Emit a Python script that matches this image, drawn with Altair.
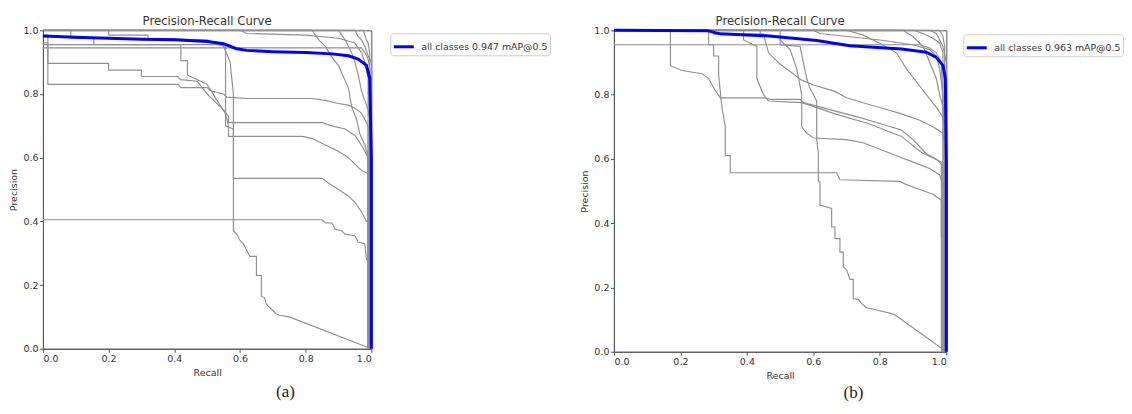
import altair as alt
import pandas as pd

TICKS = [0.0, 0.2, 0.4, 0.6, 0.8, 1.0]

# ---------------- Panel (a): per-class curves (recall, precision) ----------------
A1_R = [0, 0.85, 0.86, 0.88, 0.89, 0.91, 0.92, 0.95, 0.96, 0.98, 0.985, 0.995, 0.995]
A1_P = [0.405, 0.405, 0.395, 0.395, 0.375, 0.37, 0.36, 0.355, 0.335, 0.33, 0.28, 0.28, 0.0]

A2_R = [0, 0.53, 0.556, 0.556, 0.58, 0.58, 0.59, 0.6, 0.61, 0.62, 0.63, 0.65, 0.65, 0.665, 0.665, 0.675, 0.68, 0.69, 0.70, 0.71, 0.72, 0.75, 1.0]
A2_P = [0.955, 0.955, 0.95, 0.70, 0.69, 0.37, 0.36, 0.34, 0.33, 0.31, 0.29, 0.29, 0.23, 0.23, 0.165, 0.16, 0.14, 0.13, 0.12, 0.11, 0.105, 0.10, 0.0]

A3_R = [0, 0.015, 0.015, 0.41, 0.42, 0.5, 0.51, 0.55, 0.56, 0.62, 0.82, 0.86, 0.9, 0.93, 0.95, 0.97, 0.98, 0.99, 0.99]
A3_P = [0.96, 0.96, 0.83, 0.83, 0.82, 0.82, 0.81, 0.80, 0.79, 0.786, 0.786, 0.78, 0.77, 0.765, 0.755, 0.74, 0.72, 0.70, 0.0]

A4_R = [0, 0.015, 0.015, 0.2, 0.2, 0.3, 0.3, 0.41, 0.42, 0.47, 0.5, 0.52, 0.55, 0.565, 0.565, 0.85, 0.88, 0.92, 0.95, 0.97, 0.99, 0.99]
A4_P = [0.985, 0.985, 0.896, 0.896, 0.875, 0.875, 0.855, 0.855, 0.845, 0.84, 0.80, 0.78, 0.75, 0.73, 0.71, 0.71, 0.70, 0.69, 0.67, 0.64, 0.60, 0.0]

A5_R = [0, 0.085, 0.085, 0.155, 0.155, 0.42, 0.42, 0.44, 0.44, 0.5, 0.53, 0.555, 0.565, 0.565, 0.79, 0.82, 0.86, 0.9, 0.93, 0.95, 0.97, 0.99, 0.99]
A5_P = [1.0, 1.0, 0.975, 0.975, 0.955, 0.955, 0.905, 0.905, 0.86, 0.83, 0.78, 0.74, 0.70, 0.667, 0.667, 0.66, 0.64, 0.62, 0.60, 0.58, 0.56, 0.55, 0.0]

A6_R = [0, 0.2, 0.2, 0.32, 0.32, 0.5, 0.55, 0.57, 0.58, 0.58, 0.85, 0.87, 0.9, 0.93, 0.95, 0.97, 0.985, 0.995, 0.995]
A6_P = [1.0, 1.0, 0.985, 0.985, 0.975, 0.97, 0.95, 0.90, 0.80, 0.535, 0.535, 0.52, 0.50, 0.48, 0.46, 0.43, 0.40, 0.40, 0.0]

A7_R = [0, 0.97, 0.98, 0.99, 0.995, 0.995]
A7_P = [0.945, 0.945, 0.93, 0.91, 0.88, 0.0]

A8_R = [0, 0.82, 0.84, 0.86, 0.88, 0.9, 0.91, 0.93, 0.94, 0.955, 0.965, 0.98, 0.99, 0.99]
A8_P = [1.0, 1.0, 0.97, 0.95, 0.915, 0.89, 0.865, 0.82, 0.76, 0.72, 0.675, 0.64, 0.60, 0.0]

A9_R = [0, 0.9, 0.92, 0.94, 0.95, 0.96, 0.97, 0.98, 0.99, 0.995, 0.995]
A9_P = [1.0, 1.0, 0.97, 0.93, 0.90, 0.86, 0.81, 0.78, 0.75, 0.72, 0.0]

A10_R = [0, 0.95, 0.96, 0.97, 0.98, 0.99, 1.0, 1.0]
A10_P = [1.0, 1.0, 0.98, 0.97, 0.95, 0.92, 0.90, 0.0]

A11_R = [0, 0.6, 0.62, 0.8, 0.9, 0.95, 0.97, 0.98, 0.99, 0.99]
A11_P = [1.0, 1.0, 0.99, 0.985, 0.975, 0.96, 0.93, 0.90, 0.85, 0.0]

A12_R = [0, 0.975, 0.985, 0.99, 0.995, 0.995]
A12_P = [1.0, 1.0, 0.97, 0.96, 0.93, 0.0]

A_ALL_R = [0, 0.1, 0.2, 0.3, 0.4, 0.5, 0.55, 0.57, 0.59, 0.62, 0.7, 0.8, 0.88, 0.93, 0.96, 0.985, 0.995, 1.0, 1.0]
A_ALL_P = [0.982, 0.978, 0.975, 0.972, 0.97, 0.965, 0.958, 0.95, 0.942, 0.937, 0.933, 0.93, 0.926, 0.92, 0.91, 0.89, 0.85, 0.6, 0.0]
A_LABEL = "all classes 0.947 mAP@0.5"

# ---------------- Panel (b): per-class curves ----------------
B1_R = [0, 0.92, 0.95, 0.97, 0.985, 0.99, 0.995, 0.995]
B1_P = [0.955, 0.955, 0.945, 0.93, 0.90, 0.75, 0.70, 0.0]

B2_R = [0, 0.17, 0.17, 0.205, 0.265, 0.285, 0.305, 0.32, 0.455, 0.47, 0.56, 0.57, 0.735, 0.8, 0.865, 0.9, 0.94, 0.97, 0.99, 0.99]
B2_P = [1.0, 1.0, 0.89, 0.875, 0.865, 0.85, 0.813, 0.79, 0.79, 0.785, 0.785, 0.775, 0.73, 0.71, 0.69, 0.66, 0.616, 0.60, 0.58, 0.0]

B3_R = [0, 0.285, 0.285, 0.30, 0.30, 0.315, 0.315, 0.325, 0.335, 0.335, 0.35, 0.35, 0.67, 0.68, 0.86, 0.88, 0.92, 0.96, 0.98, 0.985, 0.985, 0.995, 0.995]
B3_P = [1.0, 1.0, 0.955, 0.955, 0.92, 0.92, 0.86, 0.76, 0.70, 0.61, 0.61, 0.557, 0.557, 0.535, 0.53, 0.52, 0.505, 0.49, 0.475, 0.47, 0.36, 0.36, 0.0]

B4_R = [0, 0.44, 0.44, 0.5, 0.5, 0.56, 0.57, 0.58, 0.59, 0.6, 0.61, 0.61, 0.615, 0.615, 0.62, 0.62, 0.655, 0.655, 0.665, 0.665, 0.68, 0.68, 0.69, 0.69, 0.70, 0.71, 0.72, 0.72, 0.735, 0.745, 0.76, 0.79, 0.83, 0.845, 1.0]
B4_P = [1.0, 1.0, 0.98, 0.98, 0.955, 0.95, 0.90, 0.85, 0.82, 0.80, 0.78, 0.66, 0.62, 0.53, 0.528, 0.456, 0.446, 0.388, 0.388, 0.352, 0.352, 0.31, 0.31, 0.265, 0.255, 0.225, 0.225, 0.165, 0.163, 0.15, 0.137, 0.13, 0.12, 0.115, 0.0]

B5_R = [0, 0.3, 0.3, 0.45, 0.465, 0.5, 0.565, 0.6, 0.665, 0.7, 0.765, 0.8, 0.865, 0.92, 0.96, 0.99, 0.995, 0.995]
B5_P = [1.0, 1.0, 0.988, 0.988, 0.93, 0.895, 0.845, 0.83, 0.81, 0.79, 0.77, 0.76, 0.74, 0.72, 0.70, 0.68, 0.65, 0.0]

B6_R = [0, 0.39, 0.39, 0.43, 0.43, 0.45, 0.465, 0.565, 0.595, 0.665, 0.765, 0.865, 0.925, 0.985, 0.985]
B6_P = [1.0, 1.0, 0.97, 0.95, 0.85, 0.80, 0.78, 0.775, 0.765, 0.74, 0.71, 0.67, 0.62, 0.59, 0.0]

B7_R = [0, 0.5, 0.5, 0.53, 0.55, 0.565, 0.565, 0.58, 0.6, 0.7, 0.75, 0.8, 0.85, 0.9, 0.95, 0.98, 0.995, 0.995]
B7_P = [1.0, 1.0, 0.97, 0.94, 0.88, 0.80, 0.70, 0.68, 0.665, 0.66, 0.65, 0.63, 0.61, 0.59, 0.57, 0.55, 0.50, 0.0]

B8_R = [0, 0.7, 0.75, 0.8, 0.85, 0.88, 0.91, 0.94, 0.97, 0.99, 0.995, 0.995]
B8_P = [1.0, 1.0, 0.985, 0.96, 0.93, 0.88, 0.84, 0.80, 0.76, 0.73, 0.70, 0.0]

B9_R = [0, 0.87, 0.9, 0.93, 0.95, 0.97, 0.98, 0.99, 0.995, 0.995]
B9_P = [1.0, 1.0, 0.98, 0.95, 0.90, 0.85, 0.80, 0.76, 0.74, 0.0]

B10_R = [0, 0.95, 0.97, 0.98, 0.99, 1.0, 1.0]
B10_P = [1.0, 1.0, 0.99, 0.97, 0.95, 0.90, 0.0]

B11_R = [0, 0.6, 0.62, 0.8, 0.9, 0.95, 0.97, 0.98, 0.99, 0.99]
B11_P = [1.0, 1.0, 0.99, 0.97, 0.955, 0.94, 0.92, 0.88, 0.80, 0.0]

B12_R = [0, 0.98, 0.99, 0.995, 0.995]
B12_P = [1.0, 1.0, 0.98, 0.95, 0.0]

B13_R = [0, 0.9, 0.93, 0.96, 0.98, 0.99, 0.99]
B13_P = [1.0, 1.0, 0.99, 0.975, 0.96, 0.93, 0.0]

B_ALL_R = [0, 0.28, 0.32, 0.46, 0.61, 0.71, 0.865, 0.94, 0.97, 0.99, 0.997, 1.0, 1.0]
B_ALL_P = [1.0, 0.999, 0.989, 0.983, 0.968, 0.952, 0.942, 0.932, 0.916, 0.89, 0.85, 0.6, 0.0]
B_LABEL = "all classes 0.963 mAP@0.5"


def curves_frame(curves):
    rows = []
    for name, (rs, ps) in curves.items():
        for i, (r, p) in enumerate(zip(rs, ps)):
            rows.append({"series": name, "idx": i, "recall": r, "precision": p})
    return pd.DataFrame(rows)


def all_frame(rs, ps, label):
    return pd.DataFrame({"idx": list(range(len(rs))), "recall": rs, "precision": ps, "label": [label] * len(rs)})


A_CURVES = {f"c{i}": c for i, c in enumerate([
    (A1_R, A1_P), (A2_R, A2_P), (A3_R, A3_P), (A4_R, A4_P), (A5_R, A5_P), (A6_R, A6_P),
    (A7_R, A7_P), (A8_R, A8_P), (A9_R, A9_P), (A10_R, A10_P), (A11_R, A11_P), (A12_R, A12_P)])}
B_CURVES = {f"c{i}": c for i, c in enumerate([
    (B1_R, B1_P), (B2_R, B2_P), (B3_R, B3_P), (B4_R, B4_P), (B5_R, B5_P), (B6_R, B6_P),
    (B7_R, B7_P), (B8_R, B8_P), (B9_R, B9_P), (B10_R, B10_P), (B11_R, B11_P), (B12_R, B12_P),
    (B13_R, B13_P)])}


def panel(curves, all_r, all_p, label, caption, w, h, legend_x, legend_y, title_offset, cap_x, cap_y):
    x = alt.X("recall:Q", scale=alt.Scale(domain=[0, 1], nice=False, zero=False),
              axis=alt.Axis(title="Recall", values=TICKS, format=".1f"))
    y = alt.Y("precision:Q", scale=alt.Scale(domain=[0, 1], nice=False, zero=False),
              axis=alt.Axis(title="Precision", values=TICKS, format=".1f"))
    gray = alt.Chart(curves_frame(curves)).mark_line(color="#8f8f8f", strokeWidth=1.15).encode(
        x=x, y=y, detail="series:N", order="idx:Q")
    blue = alt.Chart(all_frame(all_r, all_p, label)).mark_line(strokeWidth=3).encode(
        x=x, y=y, order="idx:Q",
        color=alt.Color("label:N", scale=alt.Scale(range=["#0000ff"]),
                        legend=alt.Legend(title=None, orient="none", legendX=legend_x, legendY=legend_y,
                                          symbolType="stroke", symbolSize=400, symbolStrokeWidth=3,
                                          labelFontSize=9.4, labelFont="DejaVu Sans", labelColor="#333",
                                          padding=2, strokeColor="#cccccc", cornerRadius=3,
                                          labelOffset=6, fillColor="white")))
    cap = alt.Chart(pd.DataFrame({"c": [caption]})).mark_text(
        font="Liberation Serif", fontSize=17, color="#222").encode(
        text="c:N", x=alt.value(cap_x), y=alt.value(cap_y))
    return alt.layer(gray, blue, cap).properties(
        width=w, height=h,
        title=alt.TitleParams("Precision-Recall Curve", fontSize=11.7, fontWeight="normal",
                              font="DejaVu Sans", color="#333", offset=title_offset, frame="group"))


pa = panel(A_CURVES, A_ALL_R, A_ALL_P, A_LABEL, "(a)", 329, 319, 348, 3, -2, 243, 362)
pb = panel(B_CURVES, B_ALL_R, B_ALL_P, B_LABEL, "(b)", 333, 322, 350, 4, -3, 240, 363)

chart = alt.hconcat(pa, pb, spacing=28).resolve_scale(color="independent").properties(
    padding={"left": 0, "top": 6, "right": 0, "bottom": 0}
).configure_view(stroke="#555", strokeWidth=1).configure_axis(
    labelFont="DejaVu Sans", titleFont="DejaVu Sans", labelFontSize=9.5, titleFontSize=9.5,
    titleFontWeight="normal", labelColor="#333", titleColor="#333", tickColor="#555",
    domainColor="#555", tickSize=3.5, labelPadding=1.5, titlePadding=4, grid=False)

chart.save("out.html", embed_options={"renderer": "svg", "actions": False})
